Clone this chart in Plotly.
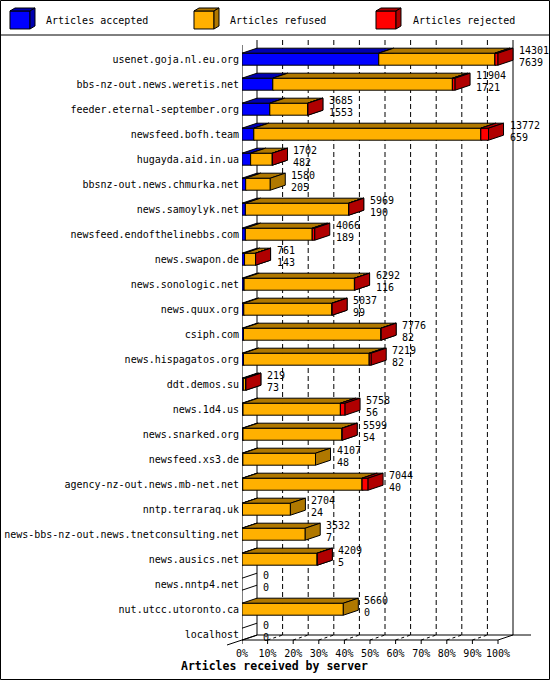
import plotly.graph_objects as go

# ---- data ------------------------------------------------------------------
servers = [
    "usenet.goja.nl.eu.org", "bbs-nz-out.news.weretis.net", "feeder.eternal-september.org",
    "newsfeed.bofh.team", "hugayda.aid.in.ua", "bbsnz-out.news.chmurka.net",
    "news.samoylyk.net", "newsfeed.endofthelinebbs.com", "news.swapon.de",
    "news.sonologic.net", "news.quux.org", "csiph.com", "news.hispagatos.org",
    "ddt.demos.su", "news.1d4.us", "news.snarked.org", "newsfeed.xs3.de",
    "agency-nz-out.news.mb-net.net", "nntp.terraraq.uk",
    "news-bbs-nz-out.news.tnetconsulting.net", "news.ausics.net", "news.nntp4.net",
    "nut.utcc.utoronto.ca", "localhost",
]
offered = [14301, 11904, 3685, 13772, 1702, 1580, 5969, 4066, 761, 6292, 5037, 7776,
           7219, 219, 5758, 5599, 4107, 7044, 2704, 3532, 4209, 0, 5660, 0]
accepted = [7639, 1721, 1553, 659, 482, 205, 190, 189, 143, 116, 99, 82,
            82, 73, 56, 54, 48, 40, 24, 7, 5, 0, 0, 0]
refused = [6492, 10033, 2122, 12683, 1212, 1375, 5767, 3737, 612, 6166, 4930, 7684,
           7027, 143, 5442, 5537, 4059, 6669, 2680, 3525, 4198, 0, 5660, 0]
rejected = [170, 150, 10, 430, 8, 0, 12, 140, 6, 10, 8, 10,
            110, 3, 260, 8, 0, 335, 0, 0, 6, 0, 0, 0]
pct_ticks = list(range(0, 101, 10))

SERIES = [("Articles accepted", accepted, "#0000ff", "#0000b0"),
          ("Articles refused", refused, "#ffb000", "#b07800"),
          ("Articles rejected", rejected, "#ff0000", "#b00000")]

# ---- geometry (pixels of the 550x680 picture) ------------------------------
W, H = 550, 680
L, R, T, B = 242, 2, 40, 34
PW, PH = W - L - R, H - T - B
PX_PER_PCT = 2.56
ROW0, PITCH = 59.2, 25.0
FONT = "DejaVu Sans Mono"

def yrow(py):            # picture pixel row -> y data units
    return (py - ROW0) / PITCH

def xpct(px):            # picture pixel column -> x data units
    return (px - L) / PX_PER_PCT

def pp(px, py):          # picture pixel -> paper coords
    return (px - L) / PW, 1 - (py - T) / PH

DX, DY = 15 / PX_PER_PCT, 5 / PITCH     # depth of the 3d bars
HALF = 6 / PITCH
scale = 100.0 / max(offered)

shapes = []
def line(x0, y0, x1, y1, dash=None, ref="x"):
    shapes.append(dict(type="line", xref=ref, yref="y" if ref == "x" else "paper",
                       x0=x0, y0=y0, x1=x1, y1=y1,
                       line=dict(color="black", width=1, dash=dash)))

def poly(pts, fill, ref="x"):
    d = "M" + " L".join(f"{x:.4f},{y:.4f}" for x, y in pts) + " Z"
    shapes.append(dict(type="path", xref=ref, yref="y" if ref == "x" else "paper", path=d,
                       fillcolor=fill, line=dict(color="black", width=1)))

# ---- walls, floor, grid ----------------------------------------------------
top_b, floor_b, floor_f = yrow(40), yrow(635), yrow(640)
for k in pct_ticks[1:-1]:
    line(k + DX, top_b, k + DX, floor_b, dash="5px,3px")
    line(k, floor_f, k + DX, floor_b, dash="3px,3px")
line(DX, top_b, DX, floor_b)
line(100 + DX, top_b, 100 + DX, floor_b)
line(0, yrow(45), 0, floor_f)
line(0, floor_f, 100, floor_f)
line(DX, floor_b, xpct(531), floor_b)
line(100, floor_f, 100 + DX, floor_b)
for k in pct_ticks:
    line(k, floor_f, k, yrow(644))
a, b = pp(227, 645), pp(257, 635)
line(a[0], a[1], b[0], b[1], ref="paper")

# ---- 3d stacked bars -------------------------------------------------------
for i in range(len(servers)):
    yt, yb = i - HALF, i + HALF
    if offered[i] == 0:
        line(0, yt, DX, yt - DY)
        line(0, yb, DX, yb - DY)
        continue
    x0 = 0.0
    for name, vals, front, dark in SERIES:
        if vals[i] <= 0:
            continue
        x1 = x0 + vals[i] * scale
        poly([(x0, yt), (x1, yt), (x1, yb), (x0, yb)], front)
        poly([(x0, yt), (x1, yt), (x1 + DX, yt - DY), (x0 + DX, yt - DY)], dark)
        poly([(x1, yt), (x1, yb), (x1 + DX, yb - DY), (x1 + DX, yt - DY)], dark)
        x0 = x1

# ---- value labels ----------------------------------------------------------
annotations = []
for i in range(len(servers)):
    xe = offered[i] * scale + 19 / PX_PER_PCT
    for txt, dy in ((offered[i], -0.356), (accepted[i], 0.112)):
        annotations.append(dict(x=xe, y=i + dy, xref="x", yref="y", text=str(txt),
                                showarrow=False, xanchor="left", yanchor="middle",
                                font=dict(family=FONT, size=10, color="black")))

# ---- legend (3d cubes) + frame ---------------------------------------------
for (name, vals, front, dark), cx, tx in zip(SERIES, (10, 194, 376), (44, 228, 411)):
    fx0, fy0 = pp(cx, 11)
    fx1, fy1 = pp(cx + 20, 29)
    ox, oy = 5 / PW, 3 / PH
    poly([(fx0, fy0), (fx1, fy0), (fx1, fy1), (fx0, fy1)], front, ref="paper")
    poly([(fx0, fy0), (fx1, fy0), (fx1 + ox, fy0 + oy), (fx0 + ox, fy0 + oy)], dark, ref="paper")
    poly([(fx1, fy0), (fx1, fy1), (fx1 + ox, fy1 + oy), (fx1 + ox, fy0 + oy)], dark, ref="paper")
    px_, py_ = pp(tx, 20)
    annotations.append(dict(x=px_, y=py_, xref="paper", yref="paper", text=name,
                            showarrow=False, xanchor="left", yanchor="middle",
                            font=dict(family=FONT, size=10, color="black")))

a, b = pp(0, 35), pp(550, 35)
line(a[0], a[1], b[0], b[1], ref="paper")
a, b = pp(0.5, 0.5), pp(549.5, 679.5)
shapes.append(dict(type="rect", xref="paper", yref="paper", x0=a[0], y0=a[1], x1=b[0], y1=b[1],
                   line=dict(color="black", width=1)))

tx, ty = pp(274, 666)
annotations.append(dict(x=tx, y=ty, xref="paper", yref="paper",
                        text="<b>Articles received by server</b>", showarrow=False,
                        xanchor="center", yanchor="middle",
                        font=dict(family=FONT, size=11.5, color="black")))

fig = go.Figure()
fig.add_trace(go.Scatter(x=[0], y=[0], mode="markers", marker=dict(opacity=0),
                         showlegend=False, hoverinfo="skip"))
fig.update_layout(
    width=W, height=H, margin=dict(l=L, r=R, t=T, b=B),
    paper_bgcolor="white", plot_bgcolor="white", showlegend=False,
    shapes=shapes, annotations=annotations,
    xaxis=dict(range=[0, PW / PX_PER_PCT], tickvals=pct_ticks,
               ticktext=[f"{k}%" for k in pct_ticks], showgrid=False, zeroline=False,
               showline=False, ticks="", tickfont=dict(family=FONT, size=10, color="black")),
    yaxis=dict(range=[yrow(T + PH), yrow(T)], tickvals=list(range(len(servers))),
               ticktext=servers, showgrid=False, zeroline=False, showline=False,
               ticks="", ticklabelstandoff=2,
               tickfont=dict(family=FONT, size=10, color="black")),
)
# the page body has an 8px default margin; drop it so the chart sits at 0,0
fig.write_html("out.html", config={"displayModeBar": False},
               post_script="document.body.style.margin='0';")
